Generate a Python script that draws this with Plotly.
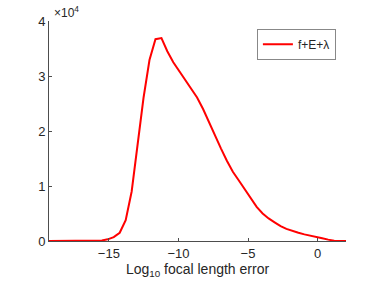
import plotly.graph_objects as go

log_err = [-19.36, -18.93, -18.50, -18.08, -17.65, -17.22, -16.79, -16.36, -15.93, -15.50,
           -15.08, -14.65, -14.22, -13.79, -13.36, -12.94, -12.51, -12.08, -11.65, -11.22,
           -10.80, -10.37, -9.94, -9.51, -9.08, -8.66, -8.23, -7.80, -7.37, -6.94,
           -6.52, -6.09, -5.66, -5.23, -4.80, -4.38, -3.95, -3.52, -3.09, -2.66,
           -2.24, -1.81, -1.38, -0.95, -0.52, -0.10, 0.33, 0.76, 1.19, 1.62, 2.04]
counts_e4 = [0.0, 0.0, 0.0, 0.0, 0.0, 0.0, 0.0, 0.001, 0.003, 0.01,
             0.03, 0.07, 0.15, 0.38, 0.9, 1.75, 2.6, 3.29, 3.67, 3.69,
             3.45, 3.25, 3.09, 2.94, 2.79, 2.61, 2.40, 2.15, 1.92, 1.68,
             1.46, 1.26, 1.10, 0.94, 0.78, 0.62, 0.50, 0.41, 0.34, 0.27,
             0.22, 0.18, 0.15, 0.12, 0.10, 0.08, 0.05, 0.025, 0.005, 0.0, 0.0]
series_name = "f+E+λ"
x_ticks = [-15, -10, -5, 0]
y_ticks = [0, 1, 2, 3, 4]

axis_col = "#4d4d4d"
text_col = "#262626"
font = "Liberation Sans, Arial, sans-serif"

fig = go.Figure()
fig.add_trace(go.Scatter(x=log_err, y=counts_e4, mode="lines", name=series_name,
                         line=dict(color="#ff0000", width=2)))

fig.update_layout(
    width=382, height=287,
    margin=dict(l=49, r=36, t=21, b=46),
    paper_bgcolor="white", plot_bgcolor="white",
    font=dict(family=font, size=13, color=text_col),
    showlegend=True,
    legend=dict(x=0.966, y=0.965, xanchor="right", yanchor="top",
                bordercolor="#888888", borderwidth=1, bgcolor="white",
                font=dict(size=12, color=text_col), itemwidth=30,
                tracegroupgap=0),
    xaxis=dict(range=[-19.3, 2.04], tickvals=x_ticks, ticks="inside", ticklen=3,
               tickcolor=axis_col, showline=True, linecolor=axis_col, linewidth=1,
               showgrid=False, zeroline=False, mirror=False,
               tickfont=dict(size=13, color=text_col),
               title=dict(text="Log<sub>10</sub> focal length error", standoff=2,
                          font=dict(size=14, color=text_col))),
    yaxis=dict(range=[0, 4], tickvals=y_ticks, ticks="inside", ticklen=3,
               tickcolor=axis_col, showline=True, linecolor=axis_col, linewidth=1,
               showgrid=False, zeroline=False, mirror=False,
               tickfont=dict(size=13, color=text_col)),
)
fig.add_annotation(xref="paper", yref="paper", x=0.0, y=1.0, xanchor="left", yanchor="bottom",
                   text="×10<sup>4</sup>", showarrow=False, xshift=3, yshift=-1,
                   font=dict(size=12, color=text_col))

fig.write_html("out.html", config={"displayModeBar": False},
               post_script="document.body.style.margin='0';")
